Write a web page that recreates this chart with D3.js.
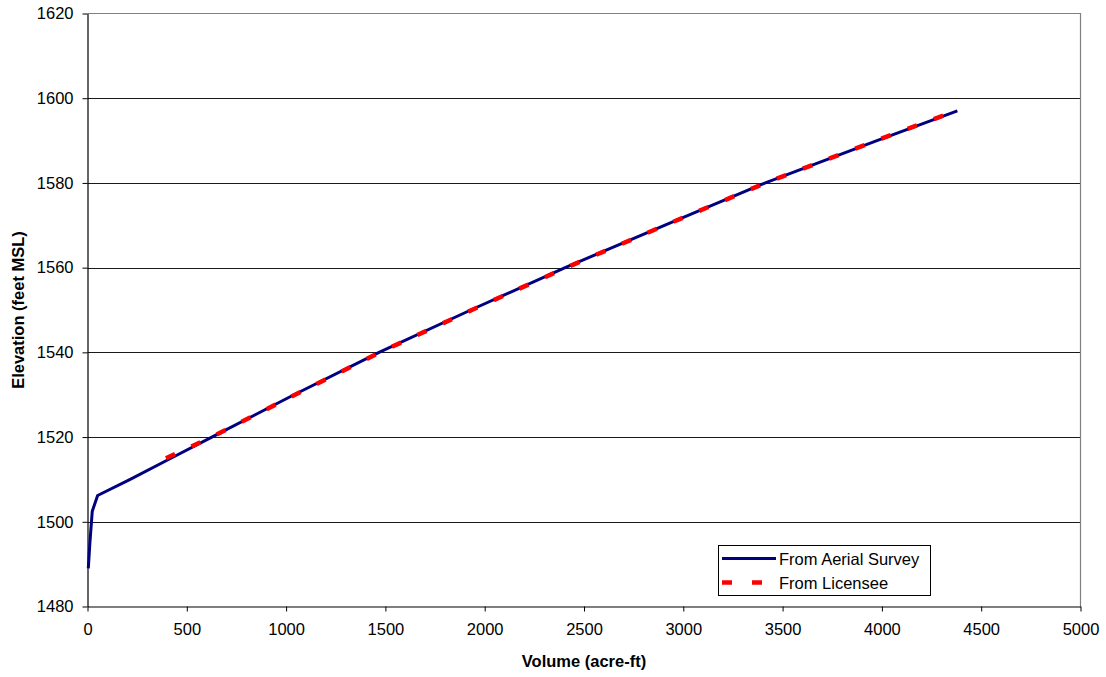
<!DOCTYPE html>
<html><head><meta charset="utf-8">
<script src="https://cdn.jsdelivr.net/npm/d3@7"></script>
<style>
html,body{margin:0;padding:0;background:#fff;}
text{font-family:"Liberation Sans",Arial,sans-serif;}
</style></head>
<body>
<svg id="chart" width="1106" height="677"></svg>
<script>
// Data
const aerialVolume = [4, 12, 24, 51, 215, 420, 626, 1040, 1468, 1930, 2405, 2905, 3413, 3975, 4380];
const aerialElevation = [1489, 1495, 1502.5, 1506.2, 1510, 1515, 1520, 1530, 1540, 1550, 1560, 1570, 1580, 1590, 1597];
const licenseeVolume = [395, 625, 1045, 1472, 1935, 2410, 2908, 3415, 3972, 4372];
const licenseeElevation = [1515, 1520, 1530, 1540, 1550, 1560, 1570, 1580, 1590, 1597];
const xTicks = [0, 500, 1000, 1500, 2000, 2500, 3000, 3500, 4000, 4500, 5000];
const yTicks = [1480, 1500, 1520, 1540, 1560, 1580, 1600, 1620];
const seriesNames = ["From Aerial Survey", "From Licensee"];

const svg = d3.select("#chart");
const L = 87.5, R = 1080.5, T = 13.5, B = 606.5;
const x = d3.scaleLinear().domain([0, 5000]).range([L, R]);
const y = d3.scaleLinear().domain([1480, 1620]).range([B, T]);
const fs = "16.5px";

// gridlines
svg.append("g").selectAll("line").data(yTicks.filter(v => v !== 1480 && v !== 1620)).join("line")
  .attr("x1", L).attr("x2", R).attr("y1", d => Math.round(y(d)) + 0.5).attr("y2", d => Math.round(y(d)) + 0.5)
  .attr("stroke", "#1a1a1a").attr("stroke-width", 1);

// plot border top/right
svg.append("path").attr("d", `M${L},${T}H${R}V${B}`).attr("fill", "none").attr("stroke", "#808080").attr("stroke-width", 1.2);

// axes
const xAxis = d3.axisBottom(x).tickValues(xTicks).tickSize(5).tickSizeOuter(0).tickFormat(d3.format("d"));
const gx = svg.append("g").attr("transform", `translate(0,${B})`).call(xAxis);
const yAxis = d3.axisLeft(y).tickValues(yTicks).tickSize(5).tickSizeOuter(0).tickFormat(d3.format("d"));
const gy = svg.append("g").attr("transform", `translate(${L},0)`).call(yAxis);
[gx, gy].forEach(g => {
  g.select(".domain").attr("stroke", "#000").attr("stroke-width", 1.2);
  g.selectAll(".tick line").attr("stroke", "#000");
  g.selectAll(".tick text").attr("font-size", fs).attr("font-family", "Liberation Sans, Arial, sans-serif").attr("fill", "#000");
});
gx.selectAll(".tick text").attr("dy", "1.25em");
gy.selectAll(".tick text").attr("x", -14);

// axis titles
svg.append("text").attr("x", (L + R) / 2).attr("y", 667).attr("text-anchor", "middle")
  .attr("font-size", "16.5px").attr("font-weight", "bold").text("Volume (acre-ft)");
svg.append("text").attr("transform", `translate(24,${(T + B) / 2}) rotate(-90)`).attr("text-anchor", "middle")
  .attr("font-size", "16.5px").attr("font-weight", "bold").text("Elevation (feet MSL)");

// lines
const line = d3.line().x(d => x(d[0])).y(d => y(d[1])).curve(d3.curveLinear);
const aerial = aerialVolume.map((v, i) => [v, aerialElevation[i]]);
const licensee = licenseeVolume.map((v, i) => [v, licenseeElevation[i]]);
svg.append("path").datum(aerial).attr("d", line).attr("fill", "none")
  .attr("stroke", "#000080").attr("stroke-width", 3).attr("stroke-linejoin", "round");
svg.append("path").datum(licensee).attr("d", line).attr("fill", "none")
  .attr("stroke", "#ff0000").attr("stroke-width", 4.5).attr("stroke-dasharray", "10,18");

// legend
const lg = svg.append("g");
lg.append("rect").attr("x", 718.5).attr("y", 545.5).attr("width", 212).attr("height", 50)
  .attr("fill", "#fff").attr("stroke", "#000").attr("stroke-width", 1);
const legendItems = [
  {name: seriesNames[0], color: "#000080", w: 3, dash: null, yy: 558.5},
  {name: seriesNames[1], color: "#ff0000", w: 4.5, dash: "10,20", yy: 582.5}
];
legendItems.forEach(it => {
  lg.append("line").attr("x1", 722).attr("x2", 776).attr("y1", it.yy).attr("y2", it.yy)
    .attr("stroke", it.color).attr("stroke-width", it.w).attr("stroke-dasharray", it.dash);
  lg.append("text").attr("x", 779).attr("y", it.yy + 6).attr("font-size", fs).text(it.name);
});
</script>
</body></html>
